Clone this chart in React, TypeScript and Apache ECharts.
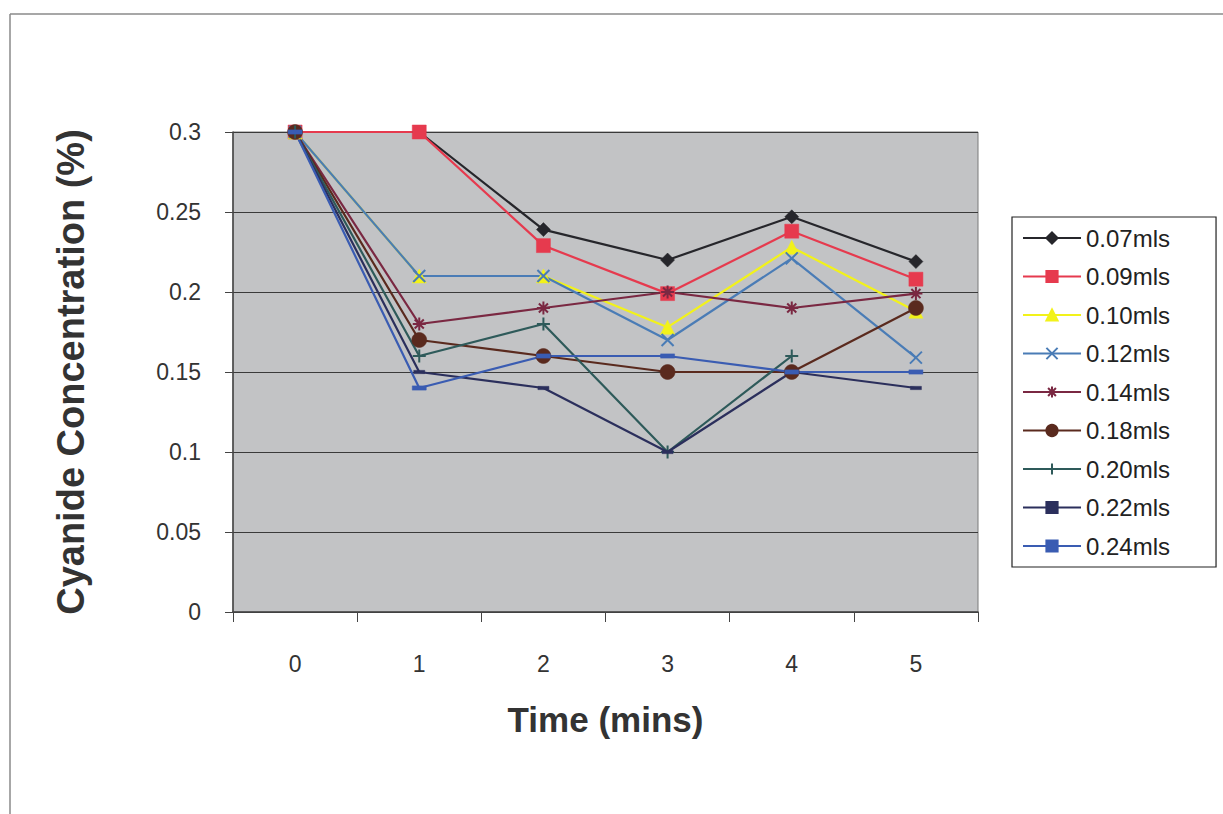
import React, { useEffect, useRef } from "react";
import * as echarts from "echarts";

const times = ["0", "1", "2", "3", "4", "5"];
const seriesNames = ["0.07mls", "0.09mls", "0.10mls", "0.12mls", "0.14mls", "0.18mls", "0.20mls", "0.22mls", "0.24mls"];
const s007 = [0.3, 0.3, 0.239, 0.22, 0.247, 0.219];
const s009 = [0.3, 0.3, 0.229, 0.199, 0.238, 0.208];
const s010 = [0.3, 0.21, 0.21, 0.178, 0.228, 0.188];
const s012 = [0.3, 0.21, 0.21, 0.17, 0.221, 0.159];
const s014 = [0.3, 0.18, 0.19, 0.2, 0.19, 0.199];
const s018 = [0.3, 0.17, 0.16, 0.15, 0.15, 0.19];
const s020 = [0.3, 0.16, 0.18, 0.1, 0.16, null];
const s022 = [0.3, 0.15, 0.14, 0.1, 0.15, 0.14];
const s024 = [0.3, 0.14, 0.16, 0.16, 0.15, 0.15];
const yTicks = [0, 0.05, 0.1, 0.15, 0.2, 0.25, 0.3];

const FONT = "'Liberation Sans', Arial, sans-serif";

const X_PATH = "path://M0,0 L10,10 M10,0 L0,10";
const STAR_PATH = "path://M5,0 L5,10 M0,5 L10,5 M1.5,1.5 L8.5,8.5 M8.5,1.5 L1.5,8.5";
const PLUS_PATH = "path://M5,0 L5,10 M0,5 L10,5";
const DASH_PATH = "path://M0,0 L10,0 L10,3 L0,3 Z";

type Spec = {
  data: (number | null)[];
  color: string;
  symbol: string;
  size: number | number[];
  stroke?: boolean;
  keep?: boolean;
};

const specs: Spec[] = [
  { data: s007, color: "#26262b", symbol: "diamond", size: 14 },
  { data: s009, color: "#e63a4e", symbol: "rect", size: 14 },
  { data: s010, color: "#f2f21a", symbol: "triangle", size: 14 },
  { data: s012, color: "#4a7cb6", symbol: X_PATH, size: 12, stroke: true },
  { data: s014, color: "#7a2842", symbol: STAR_PATH, size: 13, stroke: true },
  { data: s018, color: "#5a2a1e", symbol: "circle", size: 15 },
  { data: s020, color: "#2e5a5a", symbol: PLUS_PATH, size: 13, stroke: true },
  { data: s022, color: "#2b2f5c", symbol: DASH_PATH, size: 11, keep: true },
  { data: s024, color: "#3a5cb2", symbol: DASH_PATH, size: 14, keep: true },
];

export default function App() {
  const ref = useRef<HTMLDivElement>(null);
  useEffect(() => {
    if (!ref.current) return;
    const chart = echarts.init(ref.current, undefined, { renderer: "svg" });
    const series = specs.map((s, i) => ({
      name: seriesNames[i],
      type: "line",
      data: s.data,
      symbol: s.symbol,
      symbolSize: s.size,
      symbolKeepAspect: !!s.keep,
      showAllSymbol: true,
      connectNulls: false,
      lineStyle: { color: s.color, width: 2.2 },
      itemStyle: s.stroke
        ? { color: s.color, borderColor: s.color, borderWidth: 2 }
        : { color: s.color, borderColor: s.color, borderWidth: 0.5 },
      emphasis: { disabled: true },
    }));
    chart.setOption({
      animation: false,
      backgroundColor: "#ffffff",
      textStyle: { fontFamily: FONT },
      graphic: [
        { type: "line", shape: { x1: 10, y1: 14, x2: 1223, y2: 14 }, style: { stroke: "#8a8a8a", lineWidth: 1.5 } },
        { type: "line", shape: { x1: 10, y1: 14, x2: 10, y2: 814 }, style: { stroke: "#8a8a8a", lineWidth: 1.5 } },
      ],
      grid: {
        left: 233,
        top: 132,
        width: 745,
        height: 480,
        show: true,
        backgroundColor: "#c2c3c5",
        borderColor: "#7a7a7a",
        borderWidth: 1,
      },
      legend: {
        orient: "vertical",
        left: 1012,
        top: 217,
        padding: [9, 46, 9, 10],
        itemGap: 14.5,
        itemWidth: 58,
        itemHeight: 14,
        borderColor: "#222",
        borderWidth: 1.2,
        backgroundColor: "#ffffff",
        selectedMode: false,
        data: seriesNames,
        textStyle: { fontFamily: FONT, fontSize: 24, color: "#222" },
      },
      xAxis: {
        type: "category",
        data: times,
        boundaryGap: true,
        name: "Time (mins)",
        nameLocation: "middle",
        nameGap: 90,
        nameTextStyle: { fontFamily: FONT, fontSize: 35, fontWeight: "bold", color: "#333" },
        axisLine: { lineStyle: { color: "#444", width: 1.5 } },
        axisTick: { show: true, length: 10, alignWithLabel: false, lineStyle: { color: "#444" } },
        axisLabel: { fontFamily: FONT, fontSize: 23, color: "#333", margin: 40 },
        splitLine: { show: false },
      },
      yAxis: {
        type: "value",
        min: 0,
        max: 0.3,
        interval: 0.05,
        name: "Cyanide Concentration (%)",
        nameLocation: "middle",
        nameGap: 143,
        nameTextStyle: { fontFamily: FONT, fontSize: 38, fontWeight: "bold", color: "#333" },
        axisLine: { show: true, lineStyle: { color: "#444", width: 1.5 } },
        axisTick: { show: true, length: 8, lineStyle: { color: "#444" } },
        axisLabel: {
          fontFamily: FONT,
          fontSize: 23,
          color: "#333",
          margin: 32,
          formatter: (v: number) => {
            const t = yTicks.find((k) => Math.abs(k - v) < 1e-9);
            return t === undefined ? "" : String(Number(t.toFixed(2)));
          },
        },
        splitLine: { show: true, lineStyle: { color: "#3a3a3a", width: 1 } },
      },
      series,
    });
    return () => chart.dispose();
  }, []);
  return (
    <div
      ref={ref}
      style={{ position: "fixed", left: 0, top: 0, width: 1223, height: 814 }}
    />
  );
}
